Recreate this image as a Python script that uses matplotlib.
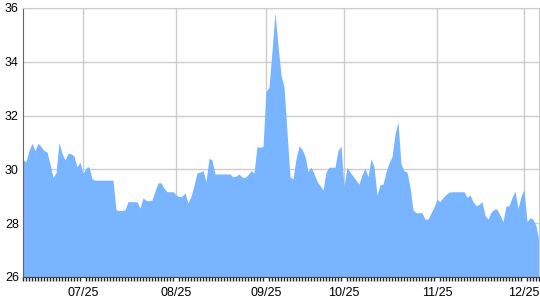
import matplotlib
matplotlib.use("Agg")
import matplotlib.pyplot as plt
import numpy as np

# one value per sample (trading day)
values = [
    30.35, 30.29, 30.7, 30.97, 30.7, 30.97, 30.85, 30.7, 30.65, 30.2,
    29.7, 29.87, 31.0, 30.6, 30.35, 30.6, 30.58, 30.5, 30.1, 30.27,
    29.85, 30.05, 30.1, 29.65, 29.6, 29.6, 29.6, 29.6, 29.6, 29.6,
    29.6, 28.5, 28.47, 28.47, 28.5, 28.8, 28.8, 28.8, 28.8, 28.56,
    28.94, 28.85, 28.83, 28.86, 29.2, 29.5, 29.5, 29.3, 29.17, 29.17,
    29.17, 29.05, 28.99, 29.0, 29.13, 28.75, 29.0, 29.4, 29.87, 29.9,
    29.95, 29.55, 30.41, 30.35, 29.83, 29.83, 29.83, 29.83, 29.83, 29.83,
    29.72, 29.75, 29.83, 29.72, 29.7, 29.8, 29.95, 29.87, 30.85, 30.82,
    30.85, 32.9, 33.05, 34.4, 35.83, 34.6, 33.5, 33.08, 31.4, 29.72,
    29.64, 30.4, 30.87, 30.75, 30.5, 29.92, 30.08, 29.85, 29.55, 29.4,
    29.23, 29.9, 30.08, 30.08, 30.08, 30.7, 30.87, 29.36, 30.08, 29.9,
    29.75, 29.6, 29.45, 29.8, 30.05, 29.73, 30.4, 30.1, 29.05, 29.42,
    29.45, 29.9, 30.25, 30.47, 31.3, 31.77, 30.2, 29.95, 29.9, 29.35,
    28.5, 28.39, 28.39, 28.39, 28.15, 28.15, 28.38, 28.6, 28.89, 28.8,
    28.95, 29.07, 29.15, 29.17, 29.17, 29.17, 29.17, 29.17, 28.96, 29.05,
    28.8, 28.65, 28.7, 28.8, 28.3, 28.15, 28.4, 28.52, 28.52, 28.3,
    28.06, 28.64, 28.64, 28.95, 29.2, 28.55, 29.0, 29.25, 28.06, 28.2,
    28.15, 27.9, 27.35,
]
tick_idx = [20, 51, 81, 107, 138, 167]
tick_labels = ["07/25", "08/25", "09/25", "10/25", "11/25", "12/25"]
y_ticks = [26, 28, 30, 32, 34, 36]

plt.rcParams["font.family"] = ["Liberation Sans", "DejaVu Sans"]

fig = plt.figure(figsize=(5.4, 3.0), dpi=100)
ax = fig.add_axes([23/540, 23/300, 516/540, 269/300])

x = np.arange(len(values))
ax.fill_between(x, 26, values, color="#78b4ff", lw=0)

ax.set_xlim(0, len(values) - 1)
ax.set_ylim(26, 36)
ax.set_yticks(y_ticks)
ax.set_xticks(tick_idx)
ax.set_xticklabels(tick_labels)
ax.set_xticks(x, minor=True)

ax.grid(True, color="#cccccc", lw=1)
ax.set_axisbelow(True)
ax.tick_params(axis="x", which="major", length=0, pad=7, labelsize=9)
ax.tick_params(axis="x", which="minor", length=3, width=1, color="#222222")
ax.tick_params(axis="y", length=0, pad=3, labelsize=9)

for s in ["top", "right"]:
    ax.spines[s].set_color("#cccccc")
ax.spines["left"].set_color("#666666")
ax.spines["bottom"].set_color("#444444")

fig.savefig("out.png", dpi=100)
